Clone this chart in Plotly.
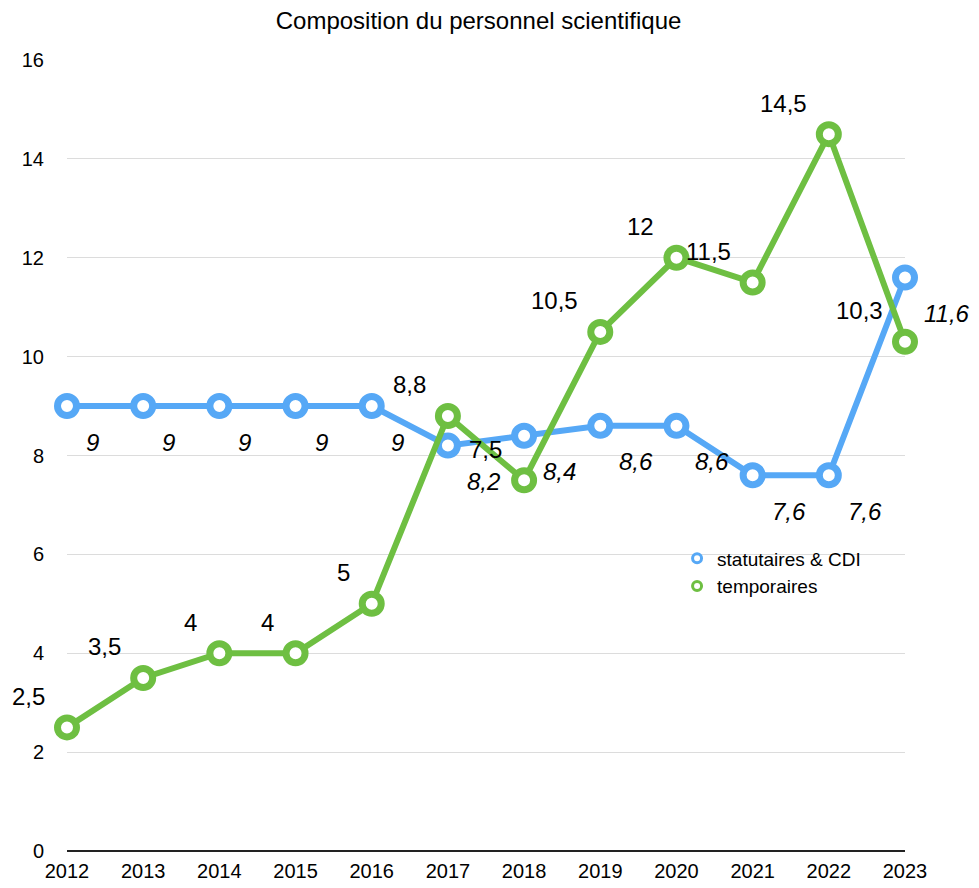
import plotly.graph_objects as go

years = [2012, 2013, 2014, 2015, 2016, 2017, 2018, 2019, 2020, 2021, 2022, 2023]
statutaires = [9, 9, 9, 9, 9, 8.2, 8.4, 8.6, 8.6, 7.6, 7.6, 11.6]
temporaires = [2.5, 3.5, 4, 4, 5, 8.8, 7.5, 10.5, 12, 11.5, 14.5, 10.3]
y_ticks = [0, 2, 4, 6, 8, 10, 12, 14, 16]

BLUE = "#56A8F6"
GREEN = "#6EBF42"
FONT = "Liberation Sans, Arial, Helvetica, sans-serif"


def fr(v):
    return ("%g" % v).replace(".", ",")


fig = go.Figure()

fig.add_trace(go.Scatter(
    x=years, y=statutaires, mode="lines+markers",
    line=dict(color=BLUE, width=6),
    marker=dict(symbol="circle", size=19, color="white", line=dict(color=BLUE, width=7)),
    cliponaxis=False, showlegend=False, hoverinfo="x+y"))
fig.add_trace(go.Scatter(
    x=years, y=temporaires, mode="lines+markers",
    line=dict(color=GREEN, width=6),
    marker=dict(symbol="circle", size=19, color="white", line=dict(color=GREEN, width=7)),
    cliponaxis=False, showlegend=False, hoverinfo="x+y"))

# legend entries (marker only)
fig.add_trace(go.Scatter(x=[None], y=[None], mode="markers", name="statutaires & CDI",
                         marker=dict(symbol="circle", size=9, color="white", line=dict(color=BLUE, width=3))))
fig.add_trace(go.Scatter(x=[None], y=[None], mode="markers", name="temporaires",
                         marker=dict(symbol="circle", size=9, color="white", line=dict(color=GREEN, width=3))))

annotations = []
for x, v in zip(years, statutaires):
    annotations.append(dict(x=x, y=v, xref="x", yref="y", text="<i>" + fr(v) + "</i>",
                            showarrow=False, xanchor="left", yanchor="middle",
                            xshift=17, yshift=-36,
                            font=dict(family=FONT, size=24, color="black")))
for x, v in zip(years, temporaires):
    annotations.append(dict(x=x, y=v, xref="x", yref="y", text=fr(v),
                            showarrow=False, xanchor="right", yanchor="middle",
                            xshift=-20, yshift=31,
                            font=dict(family=FONT, size=24, color="black")))

fig.update_layout(
    width=971, height=880,
    paper_bgcolor="white", plot_bgcolor="white",
    margin=dict(l=59, r=74, t=52, b=37, autoexpand=False),
    title=dict(text="Composition du personnel scientifique", x=0.4846, xanchor="center",
               y=0.986, yanchor="middle", font=dict(family=FONT, size=24, color="black")),
    font=dict(family=FONT, size=20, color="black"),
    xaxis=dict(range=[2012, 2023], tickmode="array", tickvals=years,
               ticktext=[str(y) for y in years], showgrid=False, zeroline=False,
               showline=False, ticks="", tickfont=dict(size=20), ticklabelstandoff=6,
               automargin=False),
    yaxis=dict(range=[0, 16], tickmode="array", tickvals=y_ticks,
               ticktext=[str(t) for t in y_ticks], showgrid=True, gridcolor="#DCDCDC",
               gridwidth=1, zeroline=True, zerolinecolor="#222222", zerolinewidth=2,
               showline=False, ticks="", tickfont=dict(size=20), ticklabelstandoff=22,
               automargin=False),
    legend=dict(x=0.728, y=0.394, xanchor="left", yanchor="top", bgcolor="rgba(0,0,0,0)",
                font=dict(family=FONT, size=19), itemwidth=30, tracegroupgap=0),
    annotations=annotations,
)

fig.write_html("out.html")
